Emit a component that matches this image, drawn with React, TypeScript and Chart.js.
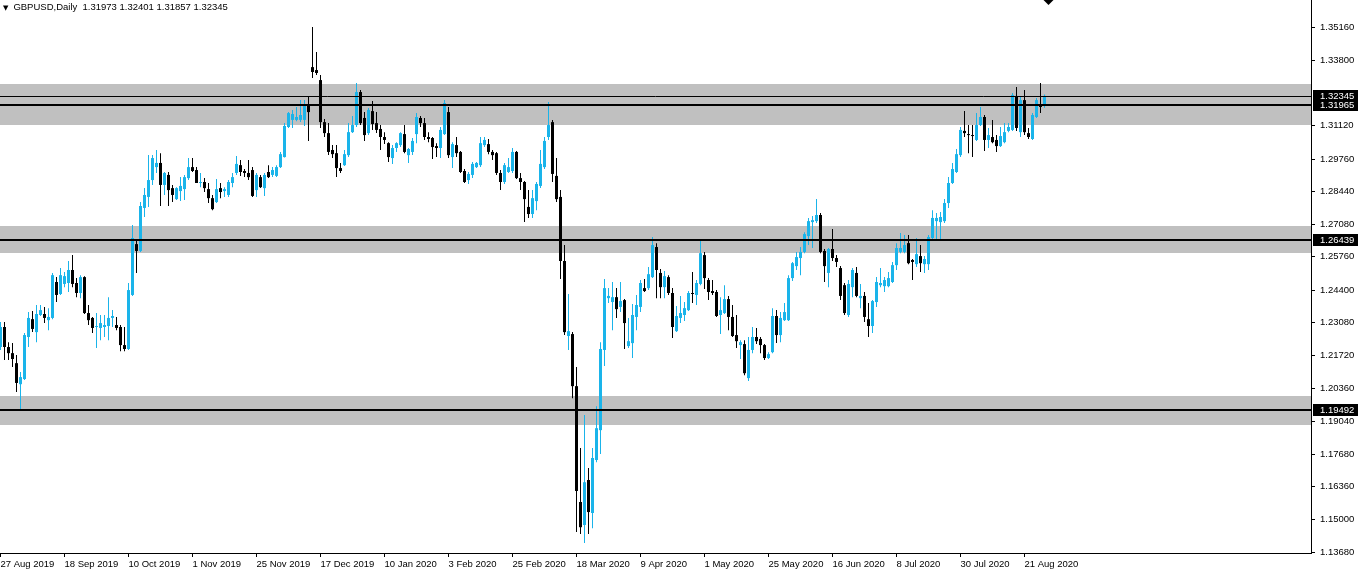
import React, { useEffect, useRef } from "react";
import { Chart, registerables } from "chart.js";

Chart.register(...registerables);

const symbolTitle = "GBPUSD,Daily";
const lastQuote = "1.31973 1.32401 1.31857 1.32345";

const dateLabels = [
  "27 Aug 2019", "18 Sep 2019", "10 Oct 2019", "1 Nov 2019", "25 Nov 2019", "17 Dec 2019",
  "10 Jan 2020", "3 Feb 2020", "25 Feb 2020", "18 Mar 2020", "9 Apr 2020", "1 May 2020",
  "25 May 2020", "16 Jun 2020", "8 Jul 2020", "30 Jul 2020", "21 Aug 2020",
];
const barsPerDateLabel = 16;

const openPrices = [
  1.2207, 1.2289, 1.2207, 1.2182, 1.2141, 1.2055, 1.2076, 1.2248, 1.2321, 1.2268,
  1.2338, 1.2342, 1.2317, 1.2326, 1.2473, 1.2424, 1.2465, 1.2469, 1.2522, 1.2469,
  1.2428, 1.2493, 1.2346, 1.2326, 1.2289, 1.2285, 1.2289, 1.2293, 1.2326, 1.2297,
  1.2289, 1.2215, 1.2199, 1.2420, 1.2628, 1.2600, 1.2776, 1.2821, 1.2890, 1.2943,
  1.2960, 1.2870, 1.2911, 1.2857, 1.2812, 1.2845, 1.2853, 1.2898, 1.2943, 1.2931,
  1.2878, 1.2882, 1.2853, 1.2816, 1.2800, 1.2857, 1.2845, 1.2829, 1.2878, 1.2919,
  1.2951, 1.2927, 1.2919, 1.2931, 1.2849, 1.2902, 1.2857, 1.2923, 1.2911, 1.2907,
  1.2943, 1.2984, 1.3107, 1.3136, 1.3136, 1.3136, 1.3136, 1.3197, 1.3352, 1.3340,
  1.3299, 1.3127, 1.3082, 1.3013, 1.3000, 1.2939, 1.2951, 1.2992, 1.3086, 1.3115,
  1.3250, 1.3144, 1.3082, 1.3172, 1.3123, 1.3099, 1.3066, 1.3041, 1.2980, 1.3021,
  1.3033, 1.3078, 1.2992, 1.3005, 1.3078, 1.3144, 1.3123, 1.3066, 1.3062, 1.3029,
  1.3021, 1.3078, 1.3168, 1.2984, 1.3033, 1.3005, 1.2927, 1.2890, 1.2911, 1.2943,
  1.2951, 1.3033, 1.3037, 1.3005, 1.3000, 1.2919, 1.2882, 1.2923, 1.2927, 1.3005,
  1.2898, 1.2882, 1.2780, 1.2751, 1.2804, 1.2866, 1.2943, 1.3066, 1.3127, 1.2907,
  1.2821, 1.2559, 1.2252, 1.2260, 1.2047, 1.1573, 1.1479, 1.1663, 1.1528, 1.1745,
  1.1867, 1.2195, 1.2407, 1.2391, 1.2411, 1.2371, 1.2399, 1.2211, 1.2223, 1.2330,
  1.2371, 1.2448, 1.2448, 1.2493, 1.2616, 1.2510, 1.2452, 1.2493, 1.2428, 1.2272,
  1.2326, 1.2338, 1.2358, 1.2428, 1.2420, 1.2465, 1.2583, 1.2481, 1.2436, 1.2432,
  1.2338, 1.2346, 1.2403, 1.2330, 1.2256, 1.2215, 1.2219, 1.2080, 1.2195, 1.2248,
  1.2240, 1.2215, 1.2162, 1.2186, 1.2334, 1.2256, 1.2317, 1.2317, 1.2489, 1.2538,
  1.2571, 1.2596, 1.2661, 1.2718, 1.2722, 1.2747, 1.2600, 1.2510, 1.2608, 1.2571,
  1.2530, 1.2460, 1.2338, 1.2452, 1.2510, 1.2407, 1.2416, 1.2321, 1.2293, 1.2391,
  1.2460, 1.2456, 1.2456, 1.2473, 1.2542, 1.2596, 1.2596, 1.2632, 1.2563, 1.2546,
  1.2579, 1.2546, 1.2546, 1.2653, 1.2722, 1.2718, 1.2722, 1.2796, 1.2878, 1.2923,
  1.2992, 1.3091, 1.3078, 1.3074, 1.3054, 1.3115, 1.3148, 1.3054, 1.3066, 1.3054,
  1.3029, 1.3045, 1.3091, 1.3095, 1.3234, 1.3086, 1.3217, 1.3082, 1.3058, 1.3148,
  1.3197, 1.31973,
];

const highPrices = [
  1.2309, 1.2309, 1.2227, 1.2223, 1.2174, 1.2105, 1.2264, 1.2350, 1.2354, 1.2379,
  1.2379, 1.2371, 1.2366, 1.2510, 1.2493, 1.2530, 1.2514, 1.2559, 1.2583, 1.2489,
  1.2501, 1.2497, 1.2379, 1.2330, 1.2346, 1.2338, 1.2338, 1.2411, 1.2358, 1.2330,
  1.2297, 1.2289, 1.2469, 1.2706, 1.2645, 1.2800, 1.2857, 1.2992, 1.2992, 1.3013,
  1.3000, 1.2923, 1.2923, 1.2870, 1.2861, 1.2902, 1.2911, 1.2980, 1.2980, 1.2943,
  1.2919, 1.2898, 1.2878, 1.2829, 1.2894, 1.2878, 1.2861, 1.2890, 1.2919, 1.2988,
  1.2972, 1.2935, 1.2972, 1.2943, 1.2919, 1.2911, 1.2919, 1.2951, 1.2943, 1.2951,
  1.3005, 1.3123, 1.3168, 1.3177, 1.3189, 1.3217, 1.3217, 1.3230, 1.3516, 1.3414,
  1.3320, 1.3140, 1.3123, 1.3033, 1.3033, 1.2960, 1.3013, 1.3123, 1.3152, 1.3287,
  1.3258, 1.3168, 1.3185, 1.3213, 1.3168, 1.3115, 1.3086, 1.3045, 1.3033, 1.3045,
  1.3086, 1.3115, 1.3021, 1.3062, 1.3164, 1.3152, 1.3144, 1.3086, 1.3066, 1.3041,
  1.3107, 1.3217, 1.3189, 1.3045, 1.3066, 1.3009, 1.2935, 1.2923, 1.2964, 1.2964,
  1.3066, 1.3066, 1.3058, 1.3013, 1.3005, 1.2931, 1.2960, 1.2980, 1.3021, 1.3009,
  1.2919, 1.2886, 1.2849, 1.2849, 1.2882, 1.3013, 1.3066, 1.3209, 1.3136, 1.2980,
  1.2849, 1.2624, 1.2424, 1.2268, 1.2125, 1.1794, 1.1929, 1.1712, 1.1794, 1.1965,
  1.2227, 1.2485, 1.2448, 1.2473, 1.2448, 1.2473, 1.2403, 1.2326, 1.2383, 1.2420,
  1.2481, 1.2485, 1.2534, 1.2657, 1.2632, 1.2526, 1.2518, 1.2501, 1.2448, 1.2375,
  1.2416, 1.2391, 1.2436, 1.2514, 1.2481, 1.2645, 1.2596, 1.2489, 1.2481, 1.2440,
  1.2411, 1.2460, 1.2416, 1.2379, 1.2338, 1.2235, 1.2235, 1.2248, 1.2289, 1.2285,
  1.2248, 1.2219, 1.2186, 1.2366, 1.2358, 1.2350, 1.2387, 1.2501, 1.2555, 1.2596,
  1.2616, 1.2677, 1.2735, 1.2743, 1.2812, 1.2755, 1.2608, 1.2612, 1.2690, 1.2583,
  1.2538, 1.2469, 1.2481, 1.2530, 1.2534, 1.2465, 1.2432, 1.2387, 1.2399, 1.2493,
  1.2530, 1.2493, 1.2514, 1.2555, 1.2632, 1.2673, 1.2665, 1.2665, 1.2567, 1.2653,
  1.2624, 1.2579, 1.2665, 1.2767, 1.2755, 1.2759, 1.2812, 1.2902, 1.2960, 1.3017,
  1.3107, 1.3172, 1.3115, 1.3115, 1.3164, 1.3189, 1.3156, 1.3103, 1.3136, 1.3074,
  1.3107, 1.3123, 1.3123, 1.3246, 1.3271, 1.3230, 1.3258, 1.3103, 1.3164, 1.3226,
  1.3287, 1.32401,
];

const lowPrices = [
  1.2195, 1.2154, 1.2154, 1.2125, 1.2023, 1.1949, 1.2072, 1.2207, 1.2268, 1.2227,
  1.2334, 1.2305, 1.2276, 1.2321, 1.2391, 1.2420, 1.2452, 1.2432, 1.2452, 1.2411,
  1.2407, 1.2342, 1.2297, 1.2264, 1.2203, 1.2235, 1.2248, 1.2235, 1.2289, 1.2276,
  1.2190, 1.2190, 1.2195, 1.2416, 1.2510, 1.2596, 1.2739, 1.2780, 1.2870, 1.2919,
  1.2784, 1.2829, 1.2784, 1.2800, 1.2808, 1.2804, 1.2808, 1.2890, 1.2923, 1.2878,
  1.2861, 1.2841, 1.2796, 1.2767, 1.2796, 1.2816, 1.2821, 1.2821, 1.2861, 1.2911,
  1.2907, 1.2902, 1.2890, 1.2821, 1.2821, 1.2857, 1.2825, 1.2898, 1.2902, 1.2902,
  1.2939, 1.2982, 1.3103, 1.3103, 1.3131, 1.3127, 1.3111, 1.3050, 1.3307, 1.3320,
  1.3103, 1.3066, 1.2992, 1.2980, 1.2902, 1.2919, 1.2947, 1.2984, 1.3082, 1.3107,
  1.3115, 1.3050, 1.3074, 1.3095, 1.3082, 1.3013, 1.3037, 1.2964, 1.2956, 1.3005,
  1.3025, 1.3000, 1.2960, 1.2992, 1.3041, 1.3107, 1.3054, 1.3045, 1.2976, 1.2984,
  1.2980, 1.3074, 1.2980, 1.2939, 1.2984, 1.2919, 1.2878, 1.2874, 1.2898, 1.2939,
  1.2943, 1.3025, 1.2996, 1.2972, 1.2911, 1.2849, 1.2874, 1.2919, 1.2919, 1.2894,
  1.2849, 1.2718, 1.2735, 1.2735, 1.2767, 1.2857, 1.2935, 1.3054, 1.2882, 1.2800,
  1.2485, 1.2256, 1.2195, 1.1998, 1.1450, 1.1442, 1.1405, 1.1442, 1.1466, 1.1736,
  1.1769, 1.2129, 1.2387, 1.2276, 1.2326, 1.2350, 1.2199, 1.2203, 1.2162, 1.2276,
  1.2350, 1.2432, 1.2440, 1.2489, 1.2407, 1.2407, 1.2407, 1.2420, 1.2244, 1.2268,
  1.2305, 1.2313, 1.2354, 1.2387, 1.2379, 1.2460, 1.2444, 1.2399, 1.2420, 1.2330,
  1.2260, 1.2342, 1.2276, 1.2248, 1.2203, 1.2158, 1.2092, 1.2068, 1.2182, 1.2219,
  1.2182, 1.2154, 1.2158, 1.2182, 1.2223, 1.2227, 1.2313, 1.2313, 1.2477, 1.2522,
  1.2501, 1.2591, 1.2624, 1.2612, 1.2714, 1.2591, 1.2473, 1.2452, 1.2559, 1.2534,
  1.2399, 1.2338, 1.2330, 1.2411, 1.2411, 1.2366, 1.2309, 1.2248, 1.2264, 1.2371,
  1.2452, 1.2432, 1.2452, 1.2469, 1.2522, 1.2591, 1.2591, 1.2546, 1.2481, 1.2534,
  1.2514, 1.2510, 1.2522, 1.2645, 1.2645, 1.2645, 1.2714, 1.2776, 1.2874, 1.2919,
  1.2984, 1.3066, 1.3000, 1.2984, 1.3050, 1.3111, 1.3009, 1.3021, 1.3041, 1.3005,
  1.3025, 1.3041, 1.3086, 1.3091, 1.3091, 1.3066, 1.3074, 1.3058, 1.3054, 1.3144,
  1.3164, 1.31857,
];

const closePrices = [
  1.2289, 1.2207, 1.2182, 1.2158, 1.2060, 1.2084, 1.2256, 1.2326, 1.2281, 1.2342,
  1.2358, 1.2326, 1.2330, 1.2501, 1.2420, 1.2501, 1.2497, 1.2522, 1.2465, 1.2428,
  1.2493, 1.2346, 1.2317, 1.2285, 1.2293, 1.2305, 1.2297, 1.2326, 1.2334, 1.2285,
  1.2215, 1.2199, 1.2440, 1.2653, 1.2600, 1.2784, 1.2829, 1.2890, 1.2980, 1.2960,
  1.2870, 1.2919, 1.2849, 1.2829, 1.2857, 1.2866, 1.2902, 1.2943, 1.2927, 1.2878,
  1.2882, 1.2857, 1.2816, 1.2771, 1.2853, 1.2841, 1.2853, 1.2882, 1.2902, 1.2956,
  1.2923, 1.2919, 1.2902, 1.2825, 1.2911, 1.2861, 1.2911, 1.2902, 1.2931, 1.2943,
  1.2996, 1.3111, 1.3164, 1.3160, 1.3148, 1.3156, 1.3197, 1.3168, 1.3332, 1.3328,
  1.3127, 1.3082, 1.3005, 1.2996, 1.2939, 1.2927, 1.2996, 1.3086, 1.3115, 1.3250,
  1.3123, 1.3074, 1.3177, 1.3119, 1.3095, 1.3066, 1.3054, 1.2984, 1.3021, 1.3041,
  1.3082, 1.3005, 1.3017, 1.3050, 1.3148, 1.3123, 1.3066, 1.3058, 1.3025, 1.3021,
  1.3095, 1.3205, 1.2992, 1.3037, 1.3000, 1.2923, 1.2882, 1.2915, 1.2956, 1.2960,
  1.3041, 1.3054, 1.3005, 1.2992, 1.2919, 1.2882, 1.2951, 1.2943, 1.3005, 1.2898,
  1.2882, 1.2812, 1.2751, 1.2816, 1.2874, 1.2956, 1.3050, 1.3115, 1.2915, 1.2812,
  1.2559, 1.2268, 1.2272, 1.2047, 1.1618, 1.1470, 1.1654, 1.1532, 1.1753, 1.1875,
  1.2199, 1.2448, 1.2416, 1.2411, 1.2362, 1.2395, 1.2305, 1.2231, 1.2338, 1.2379,
  1.2469, 1.2436, 1.2505, 1.2624, 1.2522, 1.2452, 1.2497, 1.2428, 1.2289, 1.2334,
  1.2346, 1.2366, 1.2428, 1.2424, 1.2469, 1.2591, 1.2489, 1.2432, 1.2428, 1.2334,
  1.2358, 1.2403, 1.2330, 1.2252, 1.2231, 1.2227, 1.2100, 1.2195, 1.2248, 1.2231,
  1.2215, 1.2162, 1.2178, 1.2334, 1.2256, 1.2326, 1.2350, 1.2489, 1.2550, 1.2575,
  1.2596, 1.2669, 1.2722, 1.2726, 1.2747, 1.2596, 1.2538, 1.2608, 1.2571, 1.2555,
  1.2416, 1.2346, 1.2465, 1.2522, 1.2416, 1.2416, 1.2330, 1.2293, 1.2395, 1.2473,
  1.2469, 1.2481, 1.2489, 1.2542, 1.2612, 1.2612, 1.2624, 1.2550, 1.2555, 1.2587,
  1.2550, 1.2567, 1.2657, 1.2735, 1.2735, 1.2739, 1.2796, 1.2878, 1.2935, 1.2996,
  1.3095, 1.3082, 1.3074, 1.3070, 1.3115, 1.3148, 1.3054, 1.3074, 1.3045, 1.3029,
  1.3070, 1.3086, 1.3107, 1.3238, 1.3103, 1.3217, 1.3086, 1.3066, 1.3156, 1.3217,
  1.3189, 1.32345,
];

const priceTicks = [
  1.1368, 1.15, 1.1636, 1.1768, 1.1904, 1.2036, 1.2172, 1.2308,
  1.244, 1.2576, 1.2708, 1.2844, 1.2976, 1.3112, 1.338, 1.3516,
];

const zoneLow = [1.3115, 1.2591, 1.1888];
const zoneHigh = [1.3283, 1.2702, 1.2006];

const levelPrices = [1.32345, 1.31965, 1.26439, 1.19492];
const levelWidths = [1, 2, 2, 2];

const Y_MIN = 1.13645;
const Y_MAX = 1.36265;
const X_MIN = -0.125;
const X_MAX = 327.625;

const BULL = "#1ab4ea";
const BEAR = "#000000";
const ZONE = "#c0c0c0";
const FONT = "'Liberation Sans', Arial, sans-serif";

const overlayPlugin = {
  id: "mt4Overlay",
  beforeDatasetsDraw(chart: any) {
    const { ctx, chartArea, scales } = chart;
    const y = scales.y;
    ctx.save();
    ctx.fillStyle = ZONE;
    zoneLow.forEach((lo, k) => {
      const top = y.getPixelForValue(zoneHigh[k]);
      const bottom = y.getPixelForValue(lo);
      ctx.fillRect(chartArea.left, Math.round(top), chartArea.right - chartArea.left, Math.round(bottom - top));
    });
    ctx.restore();
  },
  afterDatasetsDraw(chart: any) {
    const { ctx, chartArea, scales } = chart;
    const y = scales.y;
    ctx.save();
    ctx.strokeStyle = "#000";
    levelPrices.forEach((v, k) => {
      const w = levelWidths[k];
      let py = Math.round(y.getPixelForValue(v));
      if (w % 2 === 1) py += 0.5;
      ctx.lineWidth = w;
      ctx.beginPath();
      ctx.moveTo(chartArea.left, py);
      ctx.lineTo(chartArea.right, py);
      ctx.stroke();
    });
    ctx.restore();
  },
  afterDraw(chart: any) {
    const { ctx, chartArea, scales, width } = chart;
    const y = scales.y;
    const x = scales.x;
    ctx.save();
    ctx.font = `9.5px ${FONT}`;
    ctx.textBaseline = "middle";
    ctx.textAlign = "left";
    levelPrices.forEach((v) => {
      const py = Math.round(y.getPixelForValue(v));
      ctx.fillStyle = "#000";
      ctx.fillRect(chartArea.right + 2, py - 6, width - chartArea.right - 2, 12);
      ctx.fillStyle = "#fff";
      ctx.fillText(v.toFixed(5), chartArea.right + 9, py + 0.5);
    });
    const cx = x.getPixelForValue(openPrices.length);
    ctx.fillStyle = "#000";
    ctx.beginPath();
    ctx.moveTo(cx - 5, chartArea.top);
    ctx.lineTo(cx + 5, chartArea.top);
    ctx.lineTo(cx, chartArea.top + 5);
    ctx.closePath();
    ctx.fill();
    ctx.restore();
  },
};

export default function App() {
  const canvasRef = useRef<HTMLCanvasElement>(null);

  useEffect(() => {
    const canvas = canvasRef.current;
    if (!canvas) return;
    const colors = closePrices.map((c, i) => (c >= openPrices[i] ? BULL : BEAR));
    const chart = new Chart(canvas, {
      type: "bar",
      data: {
        datasets: [
          {
            label: "body",
            data: openPrices.map((o, i) => ({ x: i, y: [o, closePrices[i]] })) as any,
            backgroundColor: colors,
            barThickness: 3,
            grouped: false,
            inflateAmount: 0,
            borderWidth: 0,
            minBarLength: 1,
            order: 1,
          } as any,
          {
            label: "wick",
            data: highPrices.map((h, i) => ({ x: i, y: [lowPrices[i], h] })) as any,
            backgroundColor: colors,
            barThickness: 1,
            grouped: false,
            inflateAmount: 0,
            borderWidth: 0,
            order: 2,
          } as any,
        ],
      },
      options: {
        responsive: false,
        animation: false,
        devicePixelRatio: 1,
        events: [],
        layout: { padding: 0 },
        plugins: {
          legend: { display: false },
          tooltip: { enabled: false },
          title: { display: false },
        },
        scales: {
          x: {
            type: "linear",
            min: X_MIN,
            max: X_MAX,
            bounds: "data",
            offset: false,
            grid: { offset: false, drawOnChartArea: false, drawTicks: true, tickLength: 4, color: "#000" },
            border: { display: true, color: "#000", width: 1 },
            ticks: {
              autoSkip: false,
              maxRotation: 0,
              minRotation: 0,
              align: "start",
              padding: 2,
              color: "#000",
              font: { family: FONT, size: 9.5 },
              callback: (_v: any, i: number) => dateLabels[i] ?? "",
            },
            afterBuildTicks: (s: any) => {
              s.ticks = dateLabels.map((_, k) => ({ value: k * barsPerDateLabel }));
            },
            afterFit: (s: any) => {
              s.height = 25;
              s.paddingLeft = 0;
              s.paddingRight = 0;
            },
          } as any,
          y: {
            type: "linear",
            position: "right",
            min: Y_MIN,
            max: Y_MAX,
            bounds: "data",
            grid: { drawOnChartArea: false, drawTicks: true, tickLength: 4, color: "#000" },
            border: { display: true, color: "#000", width: 1 },
            ticks: {
              autoSkip: false,
              padding: 5,
              color: "#000",
              font: { family: FONT, size: 9.5 },
              callback: (v: any) => Number(v).toFixed(5),
            },
            afterBuildTicks: (s: any) => {
              s.ticks = priceTicks.map((v) => ({ value: v }));
            },
            afterFit: (s: any) => {
              s.width = 47;
              s.paddingTop = 0;
              s.paddingBottom = 0;
            },
          } as any,
        },
      },
      plugins: [overlayPlugin],
    });
    return () => chart.destroy();
  }, []);

  return (
    <div style={{ position: "fixed", left: 0, top: 0, width: 1358, height: 578, background: "#fff" }}>
      <canvas ref={canvasRef} width={1358} height={578} style={{ display: "block", width: 1358, height: 578 }} />
      <div
        style={{
          position: "absolute",
          left: 3,
          top: 1,
          fontFamily: FONT,
          fontSize: 9.5,
          lineHeight: "12px",
          color: "#000",
          whiteSpace: "pre",
          pointerEvents: "none",
        }}
      >
        <span style={{ fontFamily: "'DejaVu Sans', sans-serif", fontSize: 7, marginRight: 5 }}>▼</span>
        {symbolTitle + "  " + lastQuote}
      </div>
    </div>
  );
}
